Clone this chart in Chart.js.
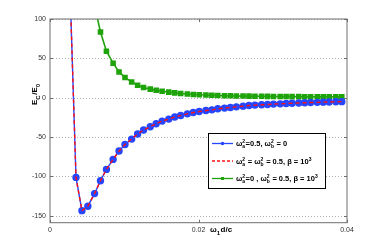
<!DOCTYPE html>
<html>
<head>
<meta charset="utf-8">
<script src="https://cdn.jsdelivr.net/npm/chart.js@4.4.0/dist/chart.umd.min.js"></script>
<style>
  html, body { margin: 0; padding: 0; background: #fff; }
  #wrap { width: 384px; height: 252px; }
</style>
</head>
<body>
<div id="wrap"><canvas id="grafico" width="384" height="252"></canvas></div>
<script>
// valores de omega1*d/c (eje x)
const xVals = [0.0026, 0.0035, 0.0043, 0.0051, 0.0060, 0.0068, 0.0076, 0.0085, 0.0093, 0.0101,
  0.0110, 0.0118, 0.0126, 0.0135, 0.0143, 0.0151, 0.0160, 0.0168, 0.0176, 0.0185,
  0.0193, 0.0201, 0.0210, 0.0218, 0.0226, 0.0235, 0.0243, 0.0251, 0.0260, 0.0268,
  0.0276, 0.0285, 0.0293, 0.0301, 0.0310, 0.0318, 0.0326, 0.0335, 0.0343, 0.0351,
  0.0360, 0.0368, 0.0376, 0.0385, 0.0393];

// wa^2=0.5, wb^2=0 (azul) - la roja punteada es la misma curva
const serieAzul = [167, -101.4, -143.7, -138, -122, -105.6, -91.2, -78.5, -67.9, -59.5,
  -52.7, -46.3, -41.2, -37, -33.2, -29.8, -27.3, -24.7, -22.7, -20.6,
  -18.9, -17.6, -16.4, -15.5, -14.2, -13.3, -12.6, -11.7, -10.8, -10.0,
  -9.5, -9.1, -8.8, -8.2, -7.9, -7.5, -7.1, -6.8, -6.5, -6.2,
  -6.0, -5.7, -5.5, -5.3, -5.1];
const serieRoja = [167, -101.4, -143.7, -138, -122, -105.6, -91.2, -78.5, -67.9, -59.5,
  -52.7, -46.3, -41.2, -37, -33.2, -29.8, -27.3, -24.7, -22.7, -20.6,
  -18.9, -17.6, -16.4, -15.5, -14.2, -13.3, -12.6, -11.7, -10.8, -10.0,
  -9.5, -9.1, -8.8, -8.2, -7.9, -7.5, -7.1, -6.8, -6.5, -6.2,
  -6.0, -5.7, -5.5, -5.3, -5.1];
// wa^2=0, wb^2=0.5 (verde), empieza en el 5to punto
const serieVerde = [null, null, null, null, 117, 83.5, 59, 43.8, 32.7, 25.5,
  20, 15.8, 12.8, 10.8, 9.5, 8.2, 7.0, 6.1, 5.3, 4.6,
  4.1, 3.7, 3.3, 3.0, 2.7, 2.5, 2.3, 2.1, 2.0, 1.9,
  1.8, 1.7, 1.6, 1.5, 1.4, 1.4, 1.3, 1.3, 1.2, 1.2,
  1.1, 1.1, 1.1, 1.0, 1.0];

const yTicks = [-150, -100, -50, 0, 50, 100];
const xTicks = [0, 0.02, 0.04];

const AZUL = "#2646ff";
const ROJO = "#ff1010";
const VERDE = "#1fa30a";
const FUENTE = "'Liberation Sans', Arial, sans-serif";

const puntos = (ys) => xVals.map((x, i) => ({ x: x, y: ys[i] }));

// dibuja texto con super/subindices: partes = [texto, tipo, sup, sub]
function textoRico(ctx, x, y, partes, tam) {
  let cx = x;
  partes.forEach((p) => {
    if (p[1] === "n") {
      ctx.font = "bold " + tam + "px " + FUENTE;
      ctx.fillText(p[0], cx, y);
      cx += ctx.measureText(p[0]).width;
    } else {
      ctx.font = "bold " + Math.round(tam * 0.72) + "px " + FUENTE;
      let w = 0;
      if (p[2]) {
        ctx.fillText(p[2], cx, y - tam * 0.4);
        w = ctx.measureText(p[2]).width;
      }
      if (p[3]) {
        ctx.fillText(p[3], cx, y + tam * 0.32);
        w = Math.max(w, ctx.measureText(p[3]).width);
      }
      cx += w + 0.5;
    }
  });
  return cx;
}

const extras = {
  id: "extras",
  beforeDatasetsDraw(chart) {
    // rejilla punteada horizontal
    const ctx = chart.ctx;
    const a = chart.chartArea;
    const ys = chart.scales.y;
    ctx.save();
    ctx.strokeStyle = "#b0b0b0";
    ctx.lineWidth = 1;
    ctx.setLineDash([1, 2]);
    ctx.beginPath();
    yTicks.forEach((t) => {
      const py = Math.round(ys.getPixelForValue(t)) + 0.5;
      ctx.moveTo(a.left, py); ctx.lineTo(a.right, py);
    });
    ctx.stroke();
    ctx.restore();
  },
  afterDraw(chart) {
    const ctx = chart.ctx;
    const a = chart.chartArea;
    const xs = chart.scales.x;
    const ys = chart.scales.y;
    ctx.save();
    // marco y ticks internos
    ctx.strokeStyle = "#6e6e6e";
    ctx.lineWidth = 1;
    ctx.strokeRect(a.left, a.top, a.right - a.left, a.bottom - a.top);
    ctx.beginPath();
    xTicks.forEach((t) => {
      const px = Math.round(xs.getPixelForValue(t)) + 0.5;
      ctx.moveTo(px, a.bottom); ctx.lineTo(px, a.bottom - 3);
      ctx.moveTo(px, a.top); ctx.lineTo(px, a.top + 3);
    });
    yTicks.forEach((t) => {
      const py = Math.round(ys.getPixelForValue(t)) + 0.5;
      ctx.moveTo(a.left, py); ctx.lineTo(a.left + 3, py);
      ctx.moveTo(a.right, py); ctx.lineTo(a.right - 3, py);
    });
    ctx.stroke();

    // etiqueta eje x
    ctx.fillStyle = "#000";
    ctx.textBaseline = "alphabetic";
    ctx.textAlign = "left";
    textoRico(ctx, 210, 232, [["ω", "n"], ["", "s", null, "1"], ["d/c", "n"]], 8);

    // etiqueta eje y (rotada)
    ctx.save();
    ctx.translate(37, 94);
    ctx.rotate(-Math.PI / 2);
    textoRico(ctx, -11, 0, [["E", "n"], ["", "s", null, "C"], ["/E", "n"], ["", "s", null, "0"]], 8);
    ctx.restore();

    // leyenda
    const lx = 208.5, ly = 133.5, lw = 117, lh = 55;
    ctx.fillStyle = "#fff";
    ctx.fillRect(lx, ly, lw, lh);
    ctx.strokeStyle = "#000";
    ctx.strokeRect(lx, ly, lw, lh);
    const filas = [
      { y: 143.5, color: AZUL, dash: [], marca: "c",
        txt: [["ω", "n"], ["", "s", "2", "a"], ["=0.5, ω", "n"], ["", "s", "2", "b"], [" = 0", "n"]] },
      { y: 161, color: ROJO, dash: [3, 2], marca: null,
        txt: [["ω", "n"], ["", "s", "2", "a"], [" = ω", "n"], ["", "s", "2", "b"], [" = 0.5, β = 10", "n"], ["", "s", "3", null]] },
      { y: 178.5, color: VERDE, dash: [], marca: "r",
        txt: [["ω", "n"], ["", "s", "2", "a"], ["=0 , ω", "n"], ["", "s", "2", "b"], [" = 0.5, β = 10", "n"], ["", "s", "3", null]] },
    ];
    filas.forEach((f) => {
      ctx.strokeStyle = f.color;
      ctx.lineWidth = 1.3;
      ctx.setLineDash(f.dash);
      ctx.beginPath();
      ctx.moveTo(212, f.y); ctx.lineTo(233, f.y);
      ctx.stroke();
      ctx.setLineDash([]);
      ctx.fillStyle = f.color;
      if (f.marca === "c") {
        ctx.beginPath(); ctx.arc(222.5, f.y, 1.8, 0, Math.PI * 2); ctx.fill();
      } else if (f.marca === "r") {
        ctx.fillRect(221, f.y - 1.5, 3, 3);
      }
      ctx.fillStyle = "#000";
      textoRico(ctx, 236, f.y + 2.5, f.txt, 7.5);
    });
    ctx.restore();
  },
};

new Chart(document.getElementById("grafico"), {
  type: "line",
  data: {
    datasets: [
      {
        label: "roja",
        data: puntos(serieRoja),
        borderColor: ROJO,
        borderWidth: 1.4,
        borderDash: [4, 3],
        pointRadius: 0,
        order: 0,
      },
      {
        label: "azul",
        data: puntos(serieAzul),
        borderColor: AZUL,
        backgroundColor: AZUL,
        borderWidth: 1.4,
        pointRadius: 3,
        pointStyle: "circle",
        order: 1,
      },
      {
        label: "verde",
        data: puntos(serieVerde),
        borderColor: VERDE,
        backgroundColor: VERDE,
        borderWidth: 1.6,
        pointRadius: 2.8,
        pointStyle: "rect",
        order: 2,
      },
    ],
  },
  options: {
    responsive: false,
    animation: false,
    layout: { padding: { left: 0, right: 37, top: 19, bottom: 0 } },
    plugins: {
      legend: { display: false },
      tooltip: { enabled: false },
    },
    scales: {
      x: {
        type: "linear",
        min: 0,
        max: 0.04,
        afterFit: (s) => { s.height = 29.3; },
        afterBuildTicks: (s) => { s.ticks = xTicks.map((v) => ({ value: v })); },
        ticks: {
          callback: (v) => (v === 0 ? "0" : v.toFixed(2)),
          font: { size: 7, family: FUENTE },
          color: "#333",
          padding: 3,
          maxRotation: 0,
        },
        grid: { display: false, drawTicks: false, tickLength: 0 },
        border: { display: false },
      },
      y: {
        min: -159,
        max: 100,
        afterFit: (s) => { s.width = 50; },
        afterBuildTicks: (s) => { s.ticks = yTicks.map((v) => ({ value: v })); },
        ticks: {
          font: { size: 7, family: FUENTE },
          color: "#333",
          padding: 4,
        },
        grid: { display: false, drawTicks: false, tickLength: 0 },
        border: { display: false },
      },
    },
  },
  plugins: [extras],
});
</script>
</body>
</html>
